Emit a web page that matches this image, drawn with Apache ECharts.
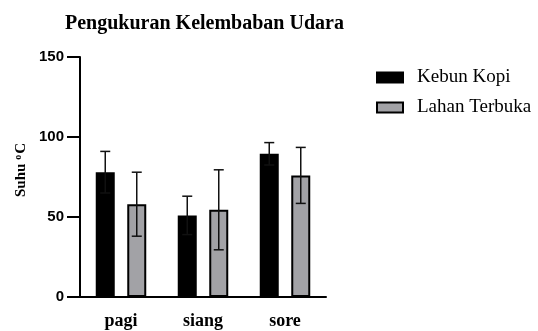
<!DOCTYPE html>
<html>
<head>
<meta charset="utf-8">
<style>
  html, body { margin: 0; padding: 0; background: #ffffff; }
  #chart { width: 538px; height: 331px; }
</style>
<script src="https://cdn.jsdelivr.net/npm/echarts@6/dist/echarts.min.js"></script>
</head>
<body>
<div id="chart"></div>
<script>
// Measurement times and the two sites
const categories = ['pagi', 'siang', 'sore'];
const seriesNames = ['Kebun Kopi', 'Lahan Terbuka'];

// Mean values and their error (± range) per time of day
const kebunKopi = [78, 51, 89.5];
const kebunKopiErr = [13, 12, 7];
const lahanTerbuka = [58, 54.5, 76];
const lahanTerbukaErr = [20, 25, 17.5];

// Y axis ticks
const yTicks = [0, 50, 100, 150];

const serif = '"Liberation Serif", "Times New Roman", Times, serif';
const sans = 'Liberation Sans';

const barWidth = 19;
const barGapPx = 12.5;
const halfStep = (barWidth + barGapPx) / 2;

function errorSeries(name, means, errs, shift) {
  return {
    type: 'custom',
    name: name + ' error',
    z: 10,
    silent: true,
    data: means.map((m, i) => [i, m - errs[i], m + errs[i]]),
    renderItem: function (params, api) {
      const low = api.coord([api.value(0), api.value(1)]);
      const high = api.coord([api.value(0), api.value(2)]);
      const x = low[0] + shift;
      const cap = 5;
      const style = { stroke: '#111', lineWidth: 1.5 };
      return {
        type: 'group',
        children: [
          { type: 'line', shape: { x1: x, y1: high[1], x2: x, y2: low[1] }, style: style },
          { type: 'line', shape: { x1: x - cap, y1: high[1], x2: x + cap, y2: high[1] }, style: style },
          { type: 'line', shape: { x1: x - cap, y1: low[1], x2: x + cap, y2: low[1] }, style: style }
        ]
      };
    }
  };
}

const chart = echarts.init(document.getElementById('chart'), null, { renderer: 'canvas' });
chart.setOption({
  animation: false,
  backgroundColor: '#ffffff',
  title: {
    text: 'Pengukuran Kelembaban Udara',
    left: 60,
    top: 9,
    textStyle: { fontFamily: serif, fontWeight: 'bold', fontSize: 20, color: '#000' }
  },
  legend: {
    orient: 'vertical',
    left: 371,
    top: 63,
    icon: 'rect',
    itemWidth: 26,
    itemHeight: 10,
    itemGap: 11,
    data: seriesNames,
    formatter: '{t|{name}}',
    textStyle: {
      fontFamily: serif,
      fontSize: 19,
      color: '#000',
      rich: {
        t: { fontFamily: serif, fontSize: 19, color: '#000', padding: [0, 0, 0, 9] }
      }
    }
  },
  grid: { left: 80, right: 212, top: 57, bottom: 34, containLabel: false },
  xAxis: {
    type: 'category',
    data: categories,
    axisLine: { lineStyle: { color: '#000', width: 2 } },
    axisTick: { alignWithLabel: true, length: 9, lineStyle: { color: '#000', width: 2 } },
    axisLabel: { fontFamily: serif, fontWeight: 'bold', fontSize: 18, color: '#000', margin: 15 }
  },
  yAxis: {
    type: 'value',
    min: yTicks[0],
    max: yTicks[yTicks.length - 1],
    interval: 50,
    name: '{a|Suhu }{s|o}{a|C}',
    nameLocation: 'middle',
    nameRotate: 90,
    nameGap: 51,
    nameTextStyle: {
      padding: [0, 0, 0, 14],
      rich: {
        a: { fontFamily: serif, fontWeight: 'bold', fontSize: 15, color: '#000' },
        s: { fontFamily: serif, fontWeight: 'bold', fontSize: 10, color: '#000', verticalAlign: 'top', padding: [0, 1, 6, 0] }
      }
    },
    axisLine: { show: true, lineStyle: { color: '#000', width: 2 } },
    axisTick: { show: true, length: 13, lineStyle: { color: '#000', width: 2 } },
    splitLine: { show: false },
    axisLabel: { fontFamily: sans, fontWeight: 'bold', fontSize: 15, color: '#000', margin: 16 }
  },
  series: [
    {
      name: seriesNames[0],
      type: 'bar',
      data: kebunKopi,
      barWidth: barWidth,
      barGap: (barGapPx / barWidth * 100).toFixed(1) + '%',
      itemStyle: { color: '#000000', borderColor: '#000', borderWidth: 2 }
    },
    {
      name: seriesNames[1],
      type: 'bar',
      data: lahanTerbuka,
      barWidth: barWidth,
      itemStyle: { color: '#a2a2a6', borderColor: '#000', borderWidth: 2 }
    },
    errorSeries(seriesNames[0], kebunKopi, kebunKopiErr, -halfStep),
    errorSeries(seriesNames[1], lahanTerbuka, lahanTerbukaErr, halfStep)
  ]
});
</script>
</body>
</html>
